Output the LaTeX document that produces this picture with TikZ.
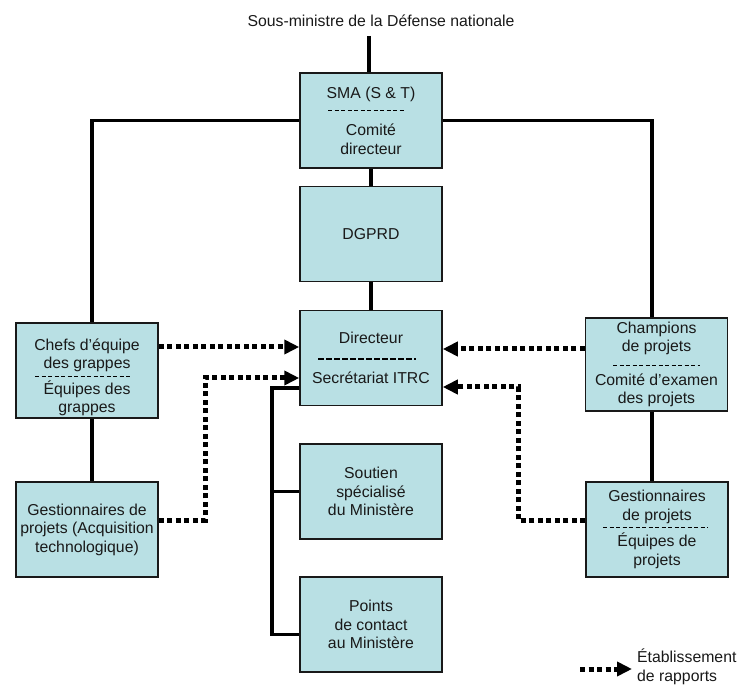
\documentclass[tikz,border=0pt]{standalone}
\usepackage{fontspec}
\setmainfont{Liberation Sans}
\usetikzlibrary{arrows.meta}
\definecolor{boxfill}{RGB}{185,224,228}

\begin{document}
\begin{tikzpicture}[x=1pt, y=-1pt,
    every node/.style={font=\fontsize{15.8}{18.5}\selectfont, text=black!90},
    unit/.style={draw=black!90, line width=1.5pt, fill=boxfill, minimum width=142pt,
        minimum height=95pt, inner sep=2pt, align=center},
    link/.style={line width=3.5pt},
    report/.style={line width=5pt, dash pattern=on 5pt off 3.5pt,
        -{Triangle[length=15pt, width=14pt]}},
    split/.style={line width=1pt, dash pattern=on 4pt off 2.5pt}]
    \useasboundingbox (0,0) rectangle (740,687);

    % Top of the chart
    \node (title) at (381,21) {Sous-ministre de la Défense nationale};
    \coordinate (top) at (369,36);

    % Centre column
    \node[unit] (sma) at (371,120.5) {SMA (S \& T)\\[19pt]Comité\\directeur};
    \node[unit] (dgprd) at (371,234) {DGPRD};
    \node[unit] (dir) at (371,358) {Directeur\\[21pt]Secrétariat ITRC};
    \node[unit] (soutien) at (371,491.5) {Soutien\\spécialisé\\du Ministère};
    \node[unit] (points) at (371,624.5) {Points\\de contact\\au Ministère};

    % Left column
    \node[unit] (chefs) at (87,370.5) {};
    \node[align=center] (chefstxt) at (87,377.5) {Chefs d’équipe\\des grappes\\[7pt]Équipes des\\grappes};
    \node[unit] (gacq) at (87,529.5) {Gestionnaires de\\projets (Acquisition\\technologique)};

    % Right column
    \node[unit, minimum height=93pt] (champ) at (656.5,364.5) {Champions\\de projets\\[15pt]Comité d’examen\\des projets};
    \node[unit] (gproj) at (657,529.5) {Gestionnaires\\de projets\\[8pt]Équipes de\\projets};

    % Dashed separators inside the boxes
    \draw[split] (328,111) -- (405,111);
    \draw[split] (35,377) -- (130,377);
    \draw[split, line width=2.5pt, dash pattern=on 6pt off 2pt] (318,359) -- (416,359);
    \draw[split] (613,366) -- (700,366);
    \draw[split] (603,527.5) -- (708,527.5);

    % Line authority
    \draw[link] (top) -- (top |- sma.north);
    \draw[link] (sma.south) -- (dgprd.north);
    \draw[link] (dgprd.south) -- (dir.north);
    \draw[link] (sma.west) -| ([xshift=5pt]chefs.north);
    \draw[link] (sma.east) -| ([xshift=-4.5pt]champ.north);
    \draw[link] ([xshift=5pt]chefs.south) -- ([xshift=5pt]gacq.north);
    \draw[link] ([xshift=-4.5pt]champ.south) -- ([xshift=-5pt]gproj.north);

    % Support bracket
    \coordinate (brk) at (272,388);
    \draw[link] (dir.west |- brk) -- (brk) |- ([yshift=-10pt]points.west);
    \draw[link] (brk |- soutien.west) -- (soutien.west);

    % Reporting
    \coordinate (r1) at (158,347);
    \coordinate (r2) at (586,349);
    \coordinate (bendL) at (205,520);
    \coordinate (inL) at (205,378);
    \coordinate (bendR) at (518,520);
    \coordinate (inR) at (518,387);
    \draw[report] (chefs.east |- r1) -- (dir.west |- r1);
    \draw[report] (champ.west |- r2) -- (dir.east |- r2);
    \draw[report] (gacq.east |- bendL) -- (bendL) -- (inL) -- (dir.west |- inL);
    \draw[report] (gproj.west |- bendR) -- (bendR) -- (inR) -- (dir.east |- inR);

    % Legend
    \coordinate (legA) at (580,669);
    \coordinate (legB) at (632,669);
    \draw[report] (legA) -- (legB);
    \node[anchor=west, align=left, inner sep=0pt] (legtxt) at (637,667) {Établissement\\de rapports};
\end{tikzpicture}
\end{document}
